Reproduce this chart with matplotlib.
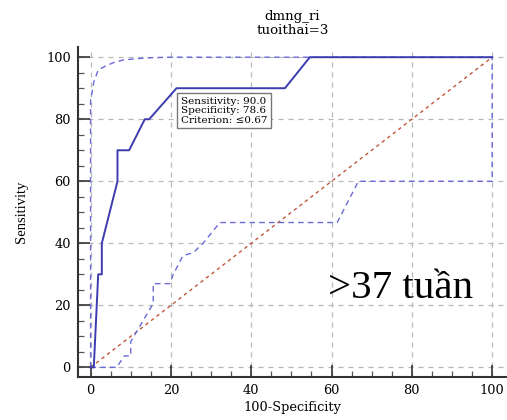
import matplotlib
matplotlib.use("Agg")
import matplotlib.pyplot as plt
from matplotlib.ticker import MultipleLocator

# ROC curve (100-Specificity, Sensitivity)
roc_x = [0, 0.8, 1.9, 2.8, 2.8, 6.7, 6.7, 9.6, 13.5, 14.6, 21.4, 48.4, 54.6, 100]
roc_y = [0, 0, 30, 30, 40, 60, 70, 70, 80, 80, 90, 90, 100, 100]

# upper confidence bound
up_x = [0, 0, 0.8, 1.9, 3.5, 5.6, 8.1, 13.9, 20, 100]
up_y = [0, 86, 92, 95.9, 97, 98.2, 99.1, 99.8, 100, 100]

# lower confidence bound
lo_x = [0, 6.5, 8.4, 10, 10, 15.6, 15.6, 19.7, 20.6, 23, 25.6, 28, 32.2, 61.4, 66.7, 100, 100]
lo_y = [0, 0, 3.7, 3.7, 8.3, 20.6, 27, 27, 30, 36, 37, 40, 46.7, 46.7, 60, 60, 100]

diag = [0, 100]
ticks = [0, 20, 40, 60, 80, 100]

title_lines = ["dmng_ri", "tuoithai=3"]
box_lines = ["Sensitivity: 90.0", "Specificity: 78.6", "Criterion: \u22640.67"]
big_label = ">37 tu\u1ea7n"

fig = plt.figure(figsize=(5.07, 4.2), dpi=100)
ax = fig.add_axes([0.153, 0.1024, 0.847, 0.7865])

grid_c = "#b8b8b8"
for t in ticks:
    ax.axhline(t, color=grid_c, lw=0.9, ls=(0, (4, 4)), zorder=0)
    ax.axvline(t, color=grid_c, lw=0.9, ls=(0, (4, 4)), zorder=0)

ax.plot(diag, diag, color="#c0583a", lw=1.0, ls=(0, (2.5, 2.5)), zorder=2)
ax.plot(up_x, up_y, color="#6a6ad8", lw=1.0, ls=(0, (4, 3)), zorder=3)
ax.plot(lo_x, lo_y, color="#6a6ad8", lw=1.0, ls=(0, (4, 3)), zorder=3)
ax.plot(roc_x, roc_y, color="#3c3cb0", lw=1.4, zorder=4)

ax.set_xlim(-3.24, 103.7)
ax.set_ylim(-3.1, 103.4)

for s in ["top", "right"]:
    ax.spines[s].set_visible(False)
for s in ["left", "bottom"]:
    ax.spines[s].set_color("#333333")
    ax.spines[s].set_linewidth(1.5)

ax.set_xticks(ticks)
ax.set_yticks(ticks)
ax.xaxis.set_minor_locator(MultipleLocator(5))
ax.yaxis.set_minor_locator(MultipleLocator(5))
ax.tick_params(which="major", direction="in", length=8.6, width=1.2, color="#333333", pad=5)
ax.tick_params(which="minor", direction="in", length=4.3, width=0.9, color="#555555")
for lab in ax.get_xticklabels() + ax.get_yticklabels():
    lab.set_fontfamily("DejaVu Serif")
    lab.set_fontsize(9.3)

ax.set_xlabel("100-Specificity", fontfamily="DejaVu Serif", fontsize=9.3, labelpad=3)
ax.set_ylabel("Sensitivity", fontfamily="Liberation Serif", fontsize=10.5, labelpad=13)
ax.set_title("\n".join(title_lines), fontfamily="DejaVu Serif", fontsize=9.6,
             linespacing=1.15, pad=9)

ax.text(22.5, 87.2, "\n".join(box_lines), fontfamily="DejaVu Serif", fontsize=7.5,
        va="top", ha="left", linespacing=1.05, zorder=6,
        bbox=dict(boxstyle="square,pad=0.35", fc="white", ec="#777777", lw=1.0))

ax.text(59, 22.5, big_label, fontfamily="Liberation Serif", fontsize=29.5,
        ha="left", va="baseline", zorder=6)

fig.savefig("out.png", dpi=100)
